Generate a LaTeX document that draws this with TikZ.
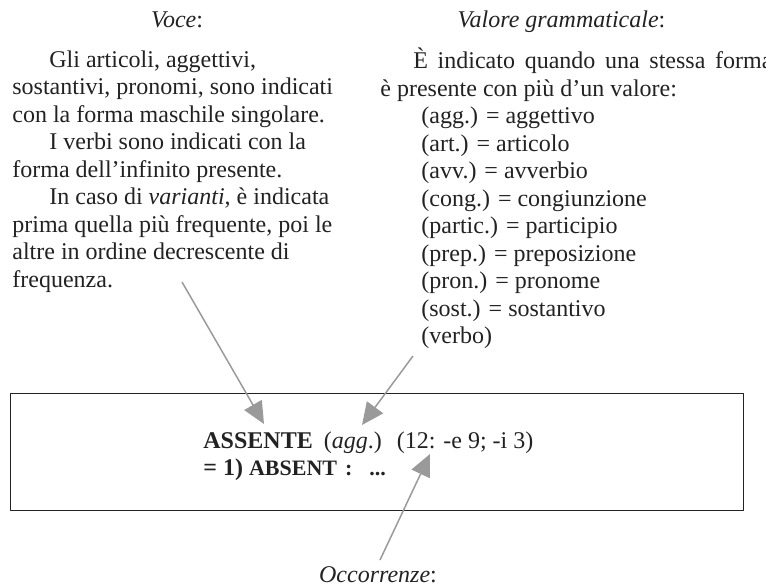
\documentclass[tikz,border=0pt]{standalone}
\usepackage{fontspec}
\setmainfont{Liberation Serif}
\usetikzlibrary{arrows.meta}
\definecolor{inkgray}{HTML}{222222}
\definecolor{arrowgray}{HTML}{9A9A9A}

\begin{document}
\begin{tikzpicture}[>={Triangle[length=11bp,width=10bp]},line join=bevel,
  txt/.style={inner sep=0pt,text=inkgray,font=\fontsize{12bp}{13.75bp}\selectfont},
  col/.style={txt,align=left,anchor=north west},
  pointer/.style={arrowgray,line width=0.75bp,->},]
\useasboundingbox (0bp,0bp) rectangle (383bp,294bp);
%%
\node (node_voce) at (88.5bp,280bp) [txt,anchor=base] {\textit{Voce}:};
  \node (node_valore) at (280.75bp,280bp) [txt,anchor=base] {\textit{Valore grammaticale}:};
  \node (node_voce_text) at (6bp,270.125bp) [col] {%
\strut\hspace*{18.5bp}Gli articoli, aggettivi,\\
\strut sostantivi, pronomi, sono indicati\\
\strut con la forma maschile singolare.\\
\strut\hspace*{18.5bp}I verbi sono indicati con la\\
\strut forma dell'infinito presente.\\
\strut\hspace*{18.5bp}In caso di \textit{varianti}, è indicata\\
\strut prima quella più frequente, poi le\\
\strut altre in ordine decrescente di\\
\strut frequenza.};
  \node (node_valore_text) at (190bp,270.125bp) [col] {%
\strut\hspace*{16.5bp}\makebox[179.5bp][s]{È indicato quando una stessa forma}\\
\strut è presente con più d'un valore:\\
\strut\hspace*{20.5bp}(agg.) = aggettivo\\
\strut\hspace*{20.5bp}(art.) = articolo\\
\strut\hspace*{20.5bp}(avv.) = avverbio\\
\strut\hspace*{20.5bp}(cong.) = congiunzione\\
\strut\hspace*{20.5bp}(partic.) = participio\\
\strut\hspace*{20.5bp}(prep.) = preposizione\\
\strut\hspace*{20.5bp}(pron.) = pronome\\
\strut\hspace*{20.5bp}(sost.) = sostantivo\\
\strut\hspace*{20.5bp}(verbo)};
%
\node (node_entry) at (188.25bp,67.75bp) [draw=inkgray,line width=0.5bp,minimum width=366.5bp,minimum height=58.5bp,inner sep=0pt] {};
  \node (node_entry_text) at (101.5bp,79.625bp) [col] {%
\strut\textbf{ASSENTE}\hspace{5.5bp}(\textit{agg}.)\hspace{7.5bp}(12: -e 9; -i 3)\\
\strut\textbf{= 1) {\fontsize{11bp}{12bp}\selectfont ABSENT\hspace{4bp}:\hspace{8.5bp}...}}};
  \node (node_occ) at (189bp,3bp) [txt,anchor=base] {\textit{Occorrenze}:};
%
\coordinate (coord_0) at (91bp,153bp);
  \coordinate (coord_1) at (132bp,82bp);
  \coordinate (coord_2) at (206.5bp,116bp);
  \coordinate (coord_3) at (181bp,81.5bp);
  \coordinate (coord_4) at (190bp,14bp);
  \coordinate (coord_5) at (215bp,67bp);
  \draw [pointer] (coord_0) -- (coord_1);
  \draw [pointer] (coord_2) -- (coord_3);
  \draw [pointer] (coord_4) -- (coord_5);
%
\end{tikzpicture}
\end{document}
